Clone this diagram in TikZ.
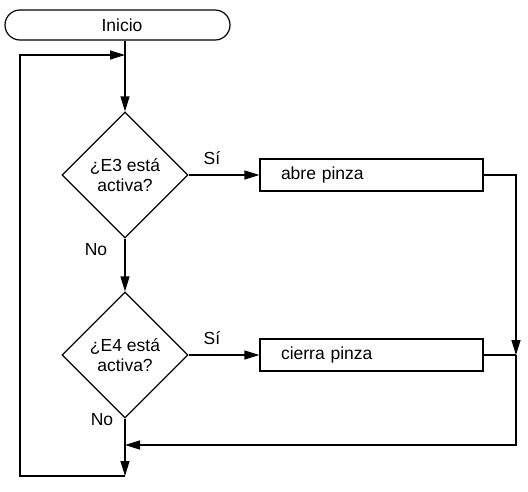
\documentclass[tikz,border=0pt]{standalone}
\usepackage{fontspec}
\setmainfont{Liberation Sans}
\usetikzlibrary{arrows.meta,positioning,calc,shapes.geometric}
\tikzset{terminal/.style={draw,rounded corners=15pt,minimum width=225pt,minimum height=30pt,inner sep=0pt},
  decision/.style={draw,diamond,aspect=1,minimum width=126pt,minimum height=126pt,inner sep=0pt,align=center},
  process/.style={draw,minimum width=223pt,minimum height=32pt,inner xsep=21pt,text width=181pt,align=left},
  flow/.style={-{Triangle[length=15pt,width=9pt]},line width=1.2pt},
  labeltext/.style={inner sep=0pt}}

\begin{document}
\begin{tikzpicture}[x=1pt,y=-1pt,line width=1.2pt,font=\fontsize{17.5}{20}\selectfont]
\useasboundingbox (0,0) rectangle (528,491);
\node[terminal] (inicio) at (117.5,25) {\hspace*{9pt}Inicio};
\node[decision] (e3) at (125,175) {¿E3 está\\activa?};
\node[decision] (e4) at (125,355) {¿E4 está\\activa?};
\node[process] (abre) at (371.5,175) {abre pinza};
\node[process] (cierra) at (371.5,355) {cierra pinza};
\coordinate (loop) at (125,55);
\coordinate (fin) at (125,476);
\coordinate (join) at (516,355);
\coordinate (merge) at (125,445);
% etiquetas
\node[labeltext] (si3) at (212,158) {Sí};
\node[labeltext] (no3) at (96,250) {No};
\node[labeltext] (si4) at (212,338) {Sí};
\node[labeltext] (no4) at (102,420) {No};
% conectores
\draw[flow] (inicio.south -| e3.north) -- (e3.north);
\draw[flow] (e3.east) -- (abre.west);
\draw[flow] (e3.south) -- (e4.north);
\draw[flow] (e4.east) -- (cierra.west);
\draw[flow] (abre.east) -| (join);
\draw (cierra.east) -- (join);
\draw[flow] (join) |- (merge);
\draw[flow] (e4.south) -- (fin);
\draw[flow] (fin) -- ++(-105,0) |- (loop);
\end{tikzpicture}
\end{document}
